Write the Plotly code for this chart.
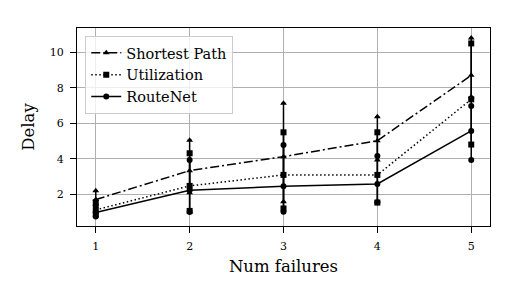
import plotly.graph_objects as go

failures = [1, 2, 3, 4, 5]

sp_mean = [1.70, 3.33, 4.12, 5.02, 8.70]
sp_low = [1.45, 2.09, 1.58, 3.93, 7.50]
sp_high = [2.20, 5.05, 7.13, 6.37, 10.80]

ut_mean = [1.12, 2.47, 3.09, 3.09, 7.35]
ut_low = [0.85, 1.06, 1.20, 1.53, 4.80]
ut_high = [1.55, 4.31, 5.49, 5.49, 10.50]

rn_mean = [0.97, 2.22, 2.45, 2.58, 5.57]
rn_low = [0.75, 1.00, 1.02, 1.55, 3.93]
rn_high = [1.35, 3.93, 4.78, 4.16, 6.97]

series = [
    ("Shortest Path", sp_mean, sp_low, sp_high, "9px,3px,2px,3px", "triangle-up"),
    ("Utilization", ut_mean, ut_low, ut_high, "1.5px,2.5px", "square"),
    ("RouteNet", rn_mean, rn_low, rn_high, "solid", "circle"),
]

FONT = "DejaVu Serif"
fig = go.Figure()
for name, mean, low, high, dash, sym in series:
    fig.add_trace(go.Scatter(
        x=failures, y=mean, name=name, mode="lines+markers",
        line=dict(color="black", width=1.5, dash=dash),
        marker=dict(symbol=sym, size=6, color="black"),
        error_y=dict(type="data", symmetric=False,
                     array=[h - m for h, m in zip(high, mean)],
                     arrayminus=[m - l for m, l in zip(mean, low)],
                     color="black", thickness=1.5, width=2),
    ))
    fig.add_trace(go.Scatter(
        x=failures + failures, y=low + high, mode="markers", showlegend=False,
        marker=dict(symbol=sym, size=6, color="black"), hoverinfo="skip",
    ))

fig.update_layout(
    width=521, height=300,
    margin=dict(l=77, r=31, t=28, b=74),
    paper_bgcolor="white", plot_bgcolor="white",
    font=dict(family=FONT, color="black", size=11),
    showlegend=True,
    legend=dict(x=0.02, y=0.96, xanchor="left", yanchor="top",
                bgcolor="rgba(255,255,255,0.8)", bordercolor="#cccccc", borderwidth=1,
                font=dict(family=FONT, size=14.5), tracegroupgap=0),
    xaxis=dict(range=[0.8, 5.2], tickvals=failures, ticktext=[str(v) for v in failures],
               showgrid=True, gridcolor="#b0b0b0", gridwidth=1,
               showline=True, linecolor="black", linewidth=1.2, mirror=True,
               ticks="outside", ticklen=6, tickcolor="black", zeroline=False,
               ticklabelstandoff=4,
               tickfont=dict(family=FONT, size=11),
               title=dict(text="Num failures", font=dict(family=FONT, size=16.5), standoff=8)),
    yaxis=dict(range=[0.21, 11.37], tickvals=[2, 4, 6, 8, 10],
               showgrid=True, gridcolor="#b0b0b0", gridwidth=1,
               showline=True, linecolor="black", linewidth=1.2, mirror=True,
               ticks="outside", ticklen=6, tickcolor="black", zeroline=False,
               ticklabelstandoff=4,
               tickfont=dict(family=FONT, size=11),
               title=dict(text="Delay", font=dict(family=FONT, size=16.5), standoff=10)),
)
fig.write_html("out.html")
